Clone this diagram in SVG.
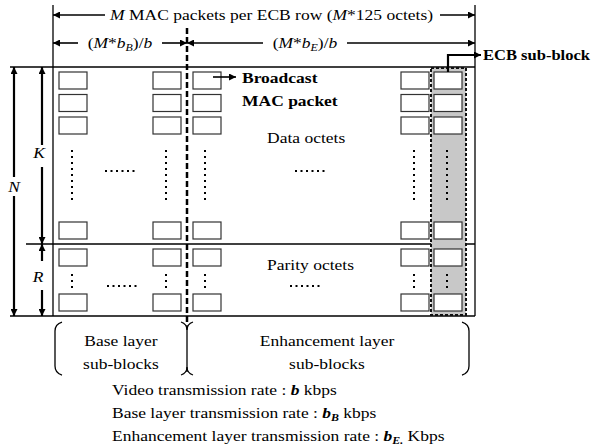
<svg xmlns="http://www.w3.org/2000/svg" width="597" height="448" viewBox="0 0 597 448">
<style>
text{font-family:"Liberation Serif","Times New Roman",serif;font-size:15.5px;fill:#000}
.b{font-weight:bold}
.i{font-style:italic}
.m{text-anchor:middle}
.frame{stroke:#000;stroke-width:1.3;fill:none}
.arr{stroke:#000;stroke-width:1.6;fill:none;marker-end:url(#ah)}
.varr{stroke:#000;stroke-width:2.2;fill:none;marker-end:url(#ah)}
.cell{fill:#fff;stroke:#333;stroke-width:1.2}
.vdot{stroke:#000;stroke-width:2;stroke-dasharray:2 4;fill:none}
.hdot{stroke:#000;stroke-width:2;stroke-dasharray:2 3.5;fill:none}
.br{stroke:#000;stroke-width:1.3;fill:none}
</style>
<defs>
<marker id="ah" viewBox="0 0 10 10" refX="10" refY="5" markerUnits="userSpaceOnUse" markerWidth="8" markerHeight="7" orient="auto">
<path d="M0,0 L10,5 L0,10 z" fill="#000"/>
</marker>
</defs>
<rect width="597" height="448" fill="#fff"/>

<g id="frame">
<line class="frame" x1="53" y1="5" x2="53" y2="316"/>
<line class="frame" x1="475" y1="5" x2="475" y2="316"/>
<line class="frame" x1="10" y1="67" x2="475" y2="67"/>
<line class="frame" x1="26" y1="244" x2="475" y2="244"/>
<line class="frame" x1="10" y1="316" x2="475" y2="316"/>
</g>

<g id="ecb-strip">
<rect x="431" y="68" width="35" height="247" fill="#c8c8c8" stroke="#111" stroke-width="2" stroke-dasharray="3 2"/>
</g>

<g id="divider">
<line x1="187" y1="28" x2="187" y2="325" stroke="#000" stroke-width="2.5" stroke-dasharray="6 3"/>
</g>

<g id="cells">
<rect class="cell" x="59" y="72" width="28" height="17"/>
<rect class="cell" x="59" y="94.5" width="28" height="17"/>
<rect class="cell" x="59" y="117" width="28" height="17"/>
<rect class="cell" x="59" y="222" width="28" height="17"/>
<rect class="cell" x="59" y="249" width="28" height="17"/>
<rect class="cell" x="59" y="294" width="28" height="17"/>
<rect class="cell" x="153" y="72" width="28" height="17"/>
<rect class="cell" x="153" y="94.5" width="28" height="17"/>
<rect class="cell" x="153" y="117" width="28" height="17"/>
<rect class="cell" x="153" y="222" width="28" height="17"/>
<rect class="cell" x="153" y="249" width="28" height="17"/>
<rect class="cell" x="153" y="294" width="28" height="17"/>
<rect class="cell" x="193" y="72" width="28" height="17"/>
<rect class="cell" x="193" y="94.5" width="28" height="17"/>
<rect class="cell" x="193" y="117" width="28" height="17"/>
<rect class="cell" x="193" y="222" width="28" height="17"/>
<rect class="cell" x="193" y="249" width="28" height="17"/>
<rect class="cell" x="193" y="294" width="28" height="17"/>
<rect class="cell" x="401" y="72" width="28" height="17"/>
<rect class="cell" x="401" y="94.5" width="28" height="17"/>
<rect class="cell" x="401" y="117" width="28" height="17"/>
<rect class="cell" x="401" y="222" width="28" height="17"/>
<rect class="cell" x="401" y="249" width="28" height="17"/>
<rect class="cell" x="401" y="294" width="28" height="17"/>
<rect class="cell" x="434" y="72" width="28" height="17"/>
<rect class="cell" x="434" y="94.5" width="28" height="17"/>
<rect class="cell" x="434" y="117" width="28" height="17"/>
<rect class="cell" x="434" y="222" width="28" height="17"/>
<rect class="cell" x="434" y="249" width="28" height="17"/>
<rect class="cell" x="434" y="294" width="28" height="17"/>
</g>

<g id="dots">
<line class="vdot" x1="72" y1="150" x2="72" y2="200"/>
<line class="vdot" x1="166" y1="150" x2="166" y2="200"/>
<line class="vdot" x1="205" y1="150" x2="205" y2="200"/>
<line class="vdot" x1="414" y1="150" x2="414" y2="200"/>
<line class="vdot" x1="447" y1="150" x2="447" y2="200"/>
<line class="vdot" x1="72" y1="274" x2="72" y2="288"/>
<line class="vdot" x1="166" y1="274" x2="166" y2="288"/>
<line class="vdot" x1="205" y1="274" x2="205" y2="288"/>
<line class="vdot" x1="414" y1="274" x2="414" y2="288"/>
<line class="vdot" x1="447" y1="274" x2="447" y2="288"/>
<line class="hdot" x1="105" y1="171" x2="138" y2="171"/>
<line class="hdot" x1="295" y1="171" x2="328" y2="171"/>
<line class="hdot" x1="107" y1="286" x2="140" y2="286"/>
<line class="hdot" x1="290" y1="286" x2="323" y2="286"/>
</g>

<g id="connectors">
<line class="arr" x1="105" y1="15" x2="53" y2="15"/>
<line class="arr" x1="440" y1="15" x2="475" y2="15"/>
<line class="arr" x1="78" y1="43" x2="53" y2="43"/>
<line class="arr" x1="162" y1="43" x2="187" y2="43"/>
<line class="arr" x1="263" y1="43" x2="187" y2="43"/>
<line class="arr" x1="347" y1="43" x2="475" y2="43"/>
<line class="varr" x1="14" y1="177" x2="14" y2="67"/>
<line class="varr" x1="14" y1="196" x2="14" y2="316"/>
<line class="varr" x1="42" y1="145" x2="42" y2="67"/>
<line class="varr" x1="42" y1="167" x2="42" y2="244"/>
<line class="varr" x1="42" y1="261" x2="42" y2="244"/>
<line class="varr" x1="42" y1="290" x2="42" y2="316"/>
<line class="arr" x1="213" y1="77" x2="236" y2="77"/>
<polyline class="varr" points="448,72 448,55 481,55"/>
</g>

<g id="brackets">
<path class="br" d="M62,322 Q55,324 55,331 L55,366 Q55,373 62,375"/>
<path class="br" d="M181,322 Q187,324 187,330 Q187,324 193,322"/>
<path class="br" d="M181,375 Q187,373 187,367 Q187,373 193,375"/>
<line class="br" x1="187" y1="325" x2="187" y2="372"/>
<path class="br" d="M462,322 Q469,324 469,331 L469,366 Q469,373 462,375"/>
</g>

<g id="labels">
<text transform="translate(110,20) scale(1.13,1)"><tspan class="i">M</tspan> MAC packets per ECB row (<tspan class="i">M</tspan>*125 octets)</text>
<text class="m" transform="translate(120,48) scale(1.13,1)">(<tspan class="i">M</tspan>*<tspan class="i">b</tspan><tspan class="i" font-size="10.5" dy="3">B</tspan><tspan dy="-3">)/</tspan><tspan class="i">b</tspan></text>
<text class="m" transform="translate(305,48) scale(1.13,1)">(<tspan class="i">M</tspan>*<tspan class="i">b</tspan><tspan class="i" font-size="10.5" dy="3">E</tspan><tspan dy="-3">)/</tspan><tspan class="i">b</tspan></text>
<text class="b" transform="translate(242,83) scale(1.13,1)">Broadcast</text>
<text class="b" transform="translate(242,106) scale(1.13,1)">MAC packet</text>
<text class="b" transform="translate(483,60)" textLength="107" lengthAdjust="spacingAndGlyphs">ECB sub-block</text>
<text transform="translate(267,143) scale(1.13,1)">Data octets</text>
<text transform="translate(267,270) scale(1.13,1)">Parity octets</text>
<text class="i m" transform="translate(39,158) scale(1.13,1)">K</text>
<text class="i m" transform="translate(14,192) scale(1.13,1)">N</text>
<text class="i m" transform="translate(38,282) scale(1.13,1)">R</text>
<text class="m" transform="translate(121,346) scale(1.13,1)">Base layer</text>
<text class="m" transform="translate(121,369) scale(1.13,1)">sub-blocks</text>
<text class="m" transform="translate(327,346) scale(1.13,1)">Enhancement layer</text>
<text class="m" transform="translate(327,369) scale(1.13,1)">sub-blocks</text>
<text transform="translate(112,395) scale(1.13,1)">Video transmission rate : <tspan class="b i">b</tspan> kbps</text>
<text transform="translate(112,418) scale(1.13,1)">Base layer transmission rate : <tspan class="b i">b</tspan><tspan class="b i" font-size="10.5" dy="3">B</tspan><tspan dy="-3"> kbps</tspan></text>
<text transform="translate(112,441) scale(1.13,1)">Enhancement layer transmission rate : <tspan class="b i">b</tspan><tspan class="b i" font-size="10.5" dy="3">E.</tspan><tspan dy="-3"> Kbps</tspan></text>
</g>
</svg>
